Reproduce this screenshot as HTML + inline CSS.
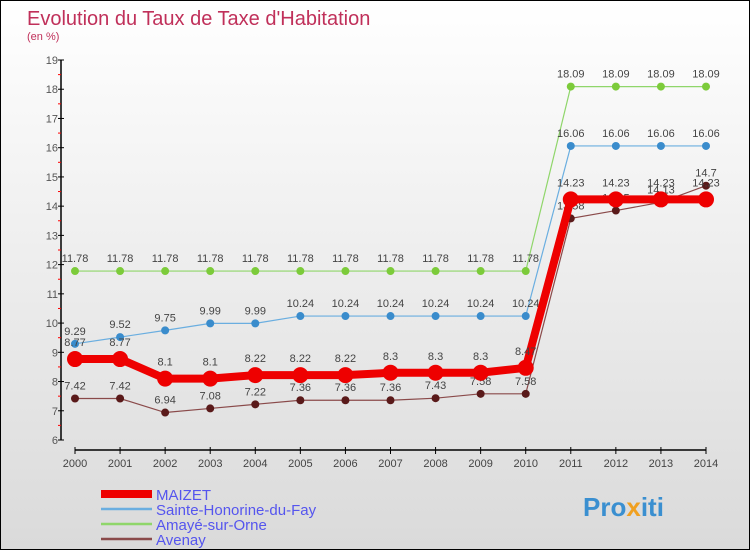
<!DOCTYPE html>
<html><head><meta charset="utf-8"><style>
body{margin:0}
#c{width:750px;height:550px;position:relative;box-sizing:border-box;border:1px solid #000;background:linear-gradient(#fff,#dadada);font-family:"Liberation Sans",sans-serif;overflow:hidden}
</style></head><body>
<div id="c">
<svg id="s" width="748" height="548" xmlns="http://www.w3.org/2000/svg">
<text x="26" y="24" font-size="20" fill="#c0305a">Evolution du Taux de Taxe d'Habitation</text>
<text x="26" y="39" font-size="11" fill="#c0305a">(en %)</text>
<g id="axes"></g><g id="series"></g><g id="legend"></g>
<text x="582" y="515" font-size="26" font-weight="bold" fill="#3a8fd0">Pro<tspan fill="#f0a020">x</tspan>iti</text>
</svg></div>
<script>
const years=[2000,2001,2002,2003,2004,2005,2006,2007,2008,2009,2010,2011,2012,2013,2014];
const yTicks=[6,7,8,9,10,11,12,13,14,15,16,17,18,19];
const maizet=[8.77,8.77,8.1,8.1,8.22,8.22,8.22,8.3,8.3,8.3,8.47,14.23,14.23,14.23,14.23];
const sainte=[9.29,9.52,9.75,9.99,9.99,10.24,10.24,10.24,10.24,10.24,10.24,16.06,16.06,16.06,16.06];
const amaye=[11.78,11.78,11.78,11.78,11.78,11.78,11.78,11.78,11.78,11.78,11.78,18.09,18.09,18.09,18.09];
const avenay=[7.42,7.42,6.94,7.08,7.22,7.36,7.36,7.36,7.43,7.58,7.58,13.58,13.85,14.13,14.7];
const seriesNames=["MAIZET","Sainte-Honorine-du-Fay","Amayé-sur-Orne","Avenay"];
const NS="http://www.w3.org/2000/svg";
function X(i){return 74+(705-74)*i/(years.length-1);}
function Y(v){return 439-(v-6)*(380/13);}
function mk(t,a,p){const e=document.createElementNS(NS,t);for(const k in a)e.setAttribute(k,a[k]);p.appendChild(e);return e;}
const ax=document.getElementById('axes');
let l=mk('line',{x1:60,y1:Y(19),x2:60,y2:Y(6),stroke:'#000','stroke-width':1.5},ax);


yTicks.forEach(v=>{
 let t=mk('line',{x1:57,y1:Y(v),x2:63,y2:Y(v),stroke:'#000'},ax);
 
 
 if(v<19){let m=mk('line',{x1:57,y1:Y(v+0.5),x2:60,y2:Y(v+0.5),stroke:'#f00'},ax);
 
 }
 let tx=mk('text',{x:57,y:Y(v)+4,'font-size':11,fill:'#555','text-anchor':'end'},ax);tx.textContent=v;
 
 
});
l=mk('line',{x1:X(0),y1:449,x2:X(14),y2:449,stroke:'#000','stroke-width':1.5},ax);


years.forEach((yr,i)=>{
 let t=mk('line',{x1:X(i),y1:446,x2:X(i),y2:453,stroke:'#000'},ax);
 
 
 let tx=mk('text',{x:X(i),y:466,'font-size':11,fill:'#444','text-anchor':'middle'},ax);tx.textContent=yr;
 
 
});
const sg=document.getElementById('series');
const defs=[[amaye,'#8fd66a','#7ccb3a',1.2,4,'amaye'],[sainte,'#6aaee0','#3a8ccc',1.2,4,'sainte'],[avenay,'#8a4a4a','#5a1a1a',1.2,4,'avenay'],[maizet,'#ee0000','#ee0000',8,8,'maizet']];
defs.forEach(([d,lc,pc,w,r,n])=>{
 let p=mk('polyline',{points:d.map((v,i)=>X(i)+','+Y(v)).join(' '),fill:'none',stroke:lc,'stroke-width':w},sg);
 
 
 d.forEach((v,i)=>{
  let c=mk('circle',{cx:X(i),cy:Y(v),r:r,fill:pc},sg);
  
  
  let t=mk('text',{x:X(i),y:Y(v)-(r+5),'font-size':11,fill:'#444','text-anchor':'middle'},sg);t.textContent=v;
  
  
 });
});
const lg=document.getElementById('legend');
const lcol=['#ee0000','#6aaee0','#8fd66a','#8a4a4a'],lw=[8,2.5,2.5,2.5];
seriesNames.forEach((nm,i)=>{
 const y=493+i*15;
 let ln=mk('line',{x1:100,y1:y,x2:151,y2:y,stroke:lcol[i],'stroke-width':lw[i]},lg);
 
 
 let t=mk('text',{x:155,y:y+6,'font-size':15,fill:'#5555ee'},lg);t.textContent=nm;
 
 
});
</script>
</body></html>
